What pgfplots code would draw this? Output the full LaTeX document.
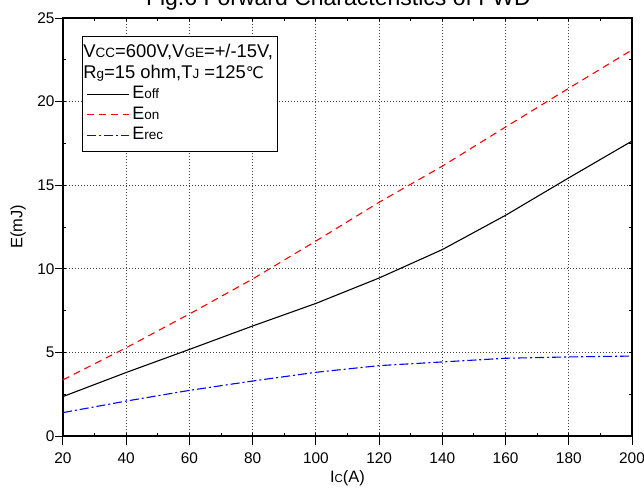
\documentclass[border=0pt]{standalone}
\usepackage{pgfplots}
\pgfplotsset{compat=1.18}
\usepackage{fontspec}
\setmainfont{Liberation Sans}
\newfontfamily\dejavu{DejaVu Sans}
\newcommand{\sub}[1]{{\fontsize{11.5}{12}\selectfont #1}}
\newcommand{\hsub}[1]{{\fontsize{13.5}{14}\selectfont #1}}
\newcommand{\hdr}{\fontsize{18.4}{19}\selectfont}
\begin{document}
\begin{tikzpicture}
\begin{axis}[
  scale only axis, width=569pt, height=418pt,
  xmin=20, xmax=200, ymin=0, ymax=25,
  xtick={20,40,...,200}, ytick={0,5,...,25},
  minor x tick num=1, minor y tick num=1,
  tick align=inside, major tick length=3pt, minor tick length=3pt,
  extra x ticks={20,40,...,200}, extra y ticks={0,5,...,25},
  extra x tick style={tick align=outside, tick pos=left, major tick length=9pt, grid=none, xticklabel={}},
  extra y tick style={tick align=outside, tick pos=left, major tick length=8pt, grid=none, yticklabel={}},
  tick style={black, line width=1pt},
  axis line style={black, line width=1.4pt},
  grid=major,
  major grid style={black!75, line width=0.9pt, dash pattern=on 1pt off 2pt},
  /pgf/number format/assume math mode=true,
  tick label style={font=\fontsize{15.4}{16}\selectfont},
  xticklabel style={yshift=-13pt},
  yticklabel style={xshift=-5pt},
  xlabel={I\sub{C}(A)},
  ylabel={E(mJ)},
  every axis x label/.style={at={(axis description cs:0.5,-0.1005)}, anchor=center, font=\fontsize{16.5}{17}\selectfont},
  every axis y label/.style={at={(axis description cs:-0.0791,0.5)}, rotate=90, anchor=center, font=\fontsize{16.5}{17}\selectfont},
  title={Fig.6 Forward Characteristics of FWD},
  every axis title/.style={at={(axis description cs:0.484,1.0311)}, anchor=base, font=\fontsize{23}{24}\selectfont},
  legend cell align=left,
  legend style={at={(axis description cs:0.0329,0.9562)}, anchor=north west,
    draw=black, line width=1pt, inner xsep=4pt, inner ysep=6pt,
    font=\fontsize{18}{19}\selectfont,
    nodes={inner xsep=1pt, inner ysep=2pt, text height=13pt, text depth=3.5pt}},
  legend image code/.code={\draw[#1] (0pt,0pt) -- (42pt,0pt);},
]
\addlegendimage{empty legend}
\addlegendentry{\hspace*{-47pt}\hdr V\hsub{CC}=600V,V\hsub{GE}=+/-15V,}
\addlegendimage{empty legend}
\addlegendentry{\hspace*{-47pt}\hdr R\hsub{g}=15 ohm,T\hsub{J} =125{\dejavu\fontsize{16}{17}\selectfont ℃}}
\addplot[black, line width=1.1pt] coordinates {
(20,2.36) (40,3.8) (60,5.18) (80,6.58) (100,7.93) (120,9.45) (140,11.15) (160,13.2) (180,15.44) (200,17.64)};
\addlegendentry{\hspace*{2pt}E\hsub{off}}
\addplot[red, line width=1.1pt, dash pattern=on 7pt off 5pt] coordinates {
(20,3.36) (40,5.28) (60,7.3) (80,9.39) (100,11.66) (120,13.98) (140,16.14) (160,18.48) (180,20.8) (200,23.09)};
\addlegendentry{\hspace*{2pt}E\hsub{on}}
\addplot[blue, line width=1.1pt, dash pattern=on 9pt off 3pt on 2pt off 3pt] coordinates {
(20,1.4) (40,2.09) (60,2.73) (80,3.29) (100,3.81) (120,4.21) (140,4.43) (160,4.65) (180,4.73) (200,4.78)};
\addlegendentry{\hspace*{2pt}E\hsub{rec}}
\end{axis}
\pgfresetboundingbox
\useasboundingbox (-63pt,-55pt) rectangle (581pt,436pt);
\end{tikzpicture}
\end{document}
